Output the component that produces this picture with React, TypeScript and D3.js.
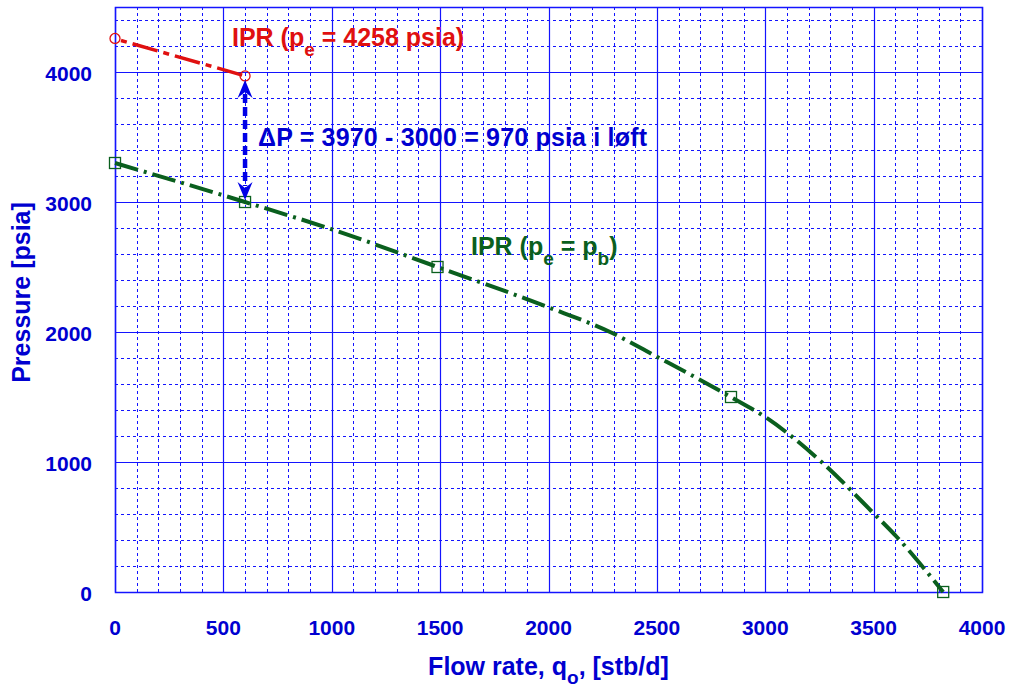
import * as d3 from "d3"

// IPR curves, flow rate q [stb/d] vs pressure p [psia]
const redQ = [0, 600]
const redP = [4258, 3970]

const markQ = [0, 600, 1488, 2842, 3821]
const markP = [3300, 3000, 2500, 1500, 0]

const curveQ = [0, 600, 1000, 1488, 2000, 2284, 2500, 2842, 3010, 3260, 3503, 3606, 3745, 3821]
const curveP = [3300, 3000, 2790, 2500, 2190, 2000, 1810, 1500, 1335, 1000, 600, 425, 156, 0]

const xTicks = [0, 500, 1000, 1500, 2000, 2500, 3000, 3500, 4000]
const yTicks = [0, 1000, 2000, 3000, 4000]

const W = 1012
const H = 688
const FONT = "'Liberation Sans', Arial, Helvetica, sans-serif"
const BLUE = "#0000d0"
const GRID = "#1414ff"
const RED = "#e01010"
const GREEN = "#0a5f1e"

export default function App() {
  const x = d3.scaleLinear().domain([0, 4000]).range([115, 982])
  const y = d3.scaleLinear().domain([0, 4500]).range([592, 7])

  const minorX = d3.range(0, 4001, 100).filter((v) => v % 500 !== 0)
  const minorY = d3.range(0, 4501, 200).filter((v) => v % 1000 !== 0)

  const curve = d3
    .line<number>()
    .x((d, i) => x(curveQ[i]))
    .y((d, i) => y(curveP[i]))
    .curve(d3.curveMonotoneX)(curveP)

  const ax = x(600)
  const topTip = y(3970) + 4
  const botTip = y(3000) - 2

  return (
    <svg width={W} height={H} style={{ position: "absolute", left: 0, top: 0, background: "#fff" }}>
      {/* minor grid */}
      {minorX.map((v) => (
        <line key={"mx" + v} x1={Math.round(x(v)) + 0.5} x2={Math.round(x(v)) + 0.5} y1={y(4500)} y2={y(0)}
          stroke={GRID} strokeWidth={1} strokeDasharray="3,3" />
      ))}
      {minorY.map((v) => (
        <line key={"my" + v} x1={x(0)} x2={x(4000)} y1={Math.round(y(v)) + 0.5} y2={Math.round(y(v)) + 0.5}
          stroke={GRID} strokeWidth={1} strokeDasharray="3,3" />
      ))}
      {/* major grid */}
      {xTicks.map((v) => (
        <line key={"gx" + v} x1={Math.round(x(v)) + 0.5} x2={Math.round(x(v)) + 0.5} y1={y(4500)} y2={y(0)}
          stroke={GRID} strokeWidth={1.2} />
      ))}
      {yTicks.map((v) => (
        <line key={"gy" + v} x1={x(0)} x2={x(4000)} y1={Math.round(y(v)) + 0.5} y2={Math.round(y(v)) + 0.5}
          stroke={GRID} strokeWidth={1.2} />
      ))}
      <rect x={Math.round(x(0)) + 0.5} y={Math.round(y(4500)) + 0.5}
        width={Math.round(x(4000)) - Math.round(x(0))} height={Math.round(y(0)) - Math.round(y(4500))}
        fill="none" stroke={GRID} strokeWidth={1.5} />

      {/* tick labels */}
      <g fontFamily={FONT} fontWeight="bold" fontSize={21} fill={BLUE}>
        {xTicks.map((v) => (
          <text key={"tx" + v} x={x(v)} y={y(0) + 43} textAnchor="middle">{v}</text>
        ))}
        {yTicks.map((v) => (
          <text key={"ty" + v} x={92} y={y(v) + 9} textAnchor="end">{v}</text>
        ))}
      </g>

      {/* axis titles */}
      <text x={(x(0) + x(4000)) / 2} y={675} textAnchor="middle" fontFamily={FONT} fontWeight="bold"
        fontSize={25} fill={BLUE}>
        Flow rate, q<tspan dy={9} fontSize={19}>o</tspan><tspan dy={-9}>, [stb/d]</tspan>
      </text>
      <text transform={`translate(30,${(y(0) + y(4500)) / 2 - 7}) rotate(-90)`} textAnchor="middle"
        fontFamily={FONT} fontWeight="bold" fontSize={25} fill={BLUE}>
        Pressure [psia]
      </text>

      {/* IPR p_e = p_b */}
      <path d={curve || ""} fill="none" stroke={GREEN} strokeWidth={4} strokeDasharray="24,6,3,6" />
      {markQ.map((q, i) => (
        <rect key={"sq" + i} x={x(q) - 5.5} y={y(markP[i]) - 5.5} width={11} height={11}
          fill="none" stroke={GREEN} strokeWidth={1.3} />
      ))}

      {/* IPR p_e = 4258 */}
      <line x1={x(redQ[0]) + 6} y1={y(redP[0]) + 2} x2={x(redQ[1])} y2={y(redP[1])}
        stroke={RED} strokeWidth={3.5} strokeDasharray="6,6,26,6" />
      {redQ.map((q, i) => (
        <circle key={"c" + i} cx={x(q)} cy={y(redP[i])} r={5} fill="none" stroke={RED} strokeWidth={1.3} />
      ))}

      {/* delta-p arrow */}
      <line x1={ax} x2={ax} y1={topTip + 14} y2={botTip - 14} stroke="#0000e6" strokeWidth={4.5}
        strokeDasharray="9,4" />
      <path d={`M${ax},${topTip} L${ax - 7.5},${topTip + 18} L${ax},${topTip + 12} L${ax + 7.5},${topTip + 18} Z`}
        fill="#0000e6" />
      <path d={`M${ax},${botTip} L${ax - 7.5},${botTip - 18} L${ax},${botTip - 12} L${ax + 7.5},${botTip - 18} Z`}
        fill="#0000e6" />

      {/* annotations */}
      <g fontFamily={FONT} fontWeight="bold" fontSize={25}>
        <text x={232} y={46} fill={RED}>
          IPR (p<tspan dy={10} fontSize={19}>e</tspan><tspan dy={-10}> = 4258 psia)</tspan>
        </text>
        <text x={258} y={146} fill={BLUE} textLength={389}>
          ΔP = 3970 - 3000 = 970 psia i løft
        </text>
        <text x={471} y={255} fill={GREEN}>
          IPR (p<tspan dy={10} fontSize={19}>e</tspan><tspan dy={-10}> = p</tspan>
          <tspan dy={10} fontSize={19}>b</tspan><tspan dy={-10}>)</tspan>
        </text>
      </g>
    </svg>
  )
}
